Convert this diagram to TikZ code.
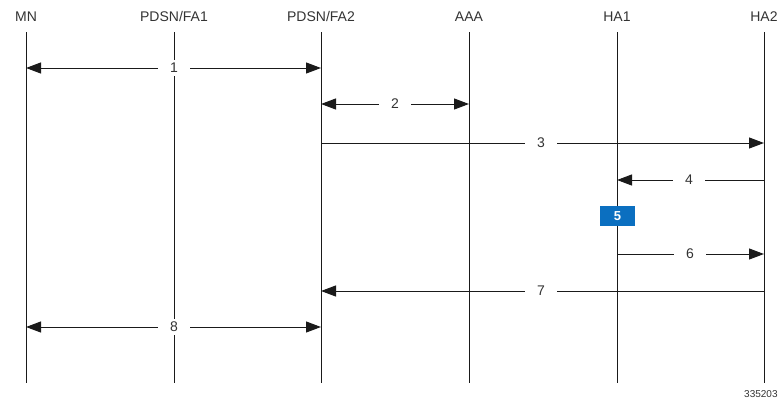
\documentclass[tikz,border=0pt]{standalone}
\usepackage{fontspec}
\setmainfont{Liberation Sans}
\usetikzlibrary{arrows.meta}
\definecolor{txt}{HTML}{333333}
\definecolor{ln}{HTML}{1A1A1A}
\definecolor{boxblue}{HTML}{0B6FC0}
\begin{document}
\begin{tikzpicture}[x=1pt,y=-1pt,
  head/.style={text=txt,font=\fontsize{14}{16}\selectfont,inner sep=0pt},
  life/.style={draw=ln,line width=1pt},
  msg/.style={draw=ln,line width=1pt,-{Triangle[length=15pt,width=11pt]}},
  msgb/.style={draw=ln,line width=1pt,{Triangle[length=15pt,width=11pt]}-{Triangle[length=15pt,width=11pt]}},
  num/.style={fill=white,text=txt,font=\fontsize{14}{16}\selectfont,inner xsep=12.5pt,inner ysep=3pt},
  stepbox/.style={fill=boxblue,text=white,font=\bfseries\fontsize{13}{15}\selectfont,minimum width=35pt,minimum height=20pt,inner sep=0pt}]
\useasboundingbox (0,0) rectangle (780,402);
% heads
\node[head] (hMN) at (26,16.5) {MN};
\node[head] (hF1) at (174,16.5) {PDSN/FA1};
\node[head] (hF2) at (321,16.5) {PDSN/FA2};
\node[head] (hAAA) at (469,16.5) {AAA};
\node[head] (hH1) at (617,16.5) {HA1};
\node[head] (hH2) at (764,16.5) {HA2};
% lifeline ends
\foreach \n/\x in {MN/26,F1/174,F2/321,AAA/469,H1/617,H2/764}{
  \coordinate (t\n) at (\x,32);
  \coordinate (b\n) at (\x,383);
  \draw[life] (t\n) -- (b\n);
}
% message endpoints
\coordinate (m1a) at (26,68);  \coordinate (m1b) at (321,68);
\coordinate (m2a) at (321,104); \coordinate (m2b) at (469,104);
\coordinate (m3a) at (321,143); \coordinate (m3b) at (764,143);
\coordinate (m4a) at (764,180); \coordinate (m4b) at (617,180);
\coordinate (m6a) at (617,254); \coordinate (m6b) at (764,254);
\coordinate (m7a) at (764,291); \coordinate (m7b) at (321,291);
\coordinate (m8a) at (26,327); \coordinate (m8b) at (321,327);
\draw[msgb] (m1a) -- (m1b);
\draw[msgb] (m2a) -- (m2b);
\draw[msg] (m3a) -- (m3b);
\draw[msg] (m4a) -- (m4b);
\draw[msg] (m6a) -- (m6b);
\draw[msg] (m7a) -- (m7b);
\draw[msgb] (m8a) -- (m8b);
\node[num] (n1) at (174,68) {1};
\node[num] (n2) at (395,104) {2};
\node[num] (n3) at (541,143) {3};
\node[num] (n4) at (689,180) {4};
\node[stepbox] (n5) at (617.5,216) {5};
\node[num] (n6) at (690,254) {6};
\node[num] (n7) at (541,291) {7};
\node[num] (n8) at (174,327) {8};
\node[text=txt,font=\fontsize{10}{11}\selectfont,anchor=west,inner sep=0pt] (fig) at (744,394) {335203};
\end{tikzpicture}
\end{document}
